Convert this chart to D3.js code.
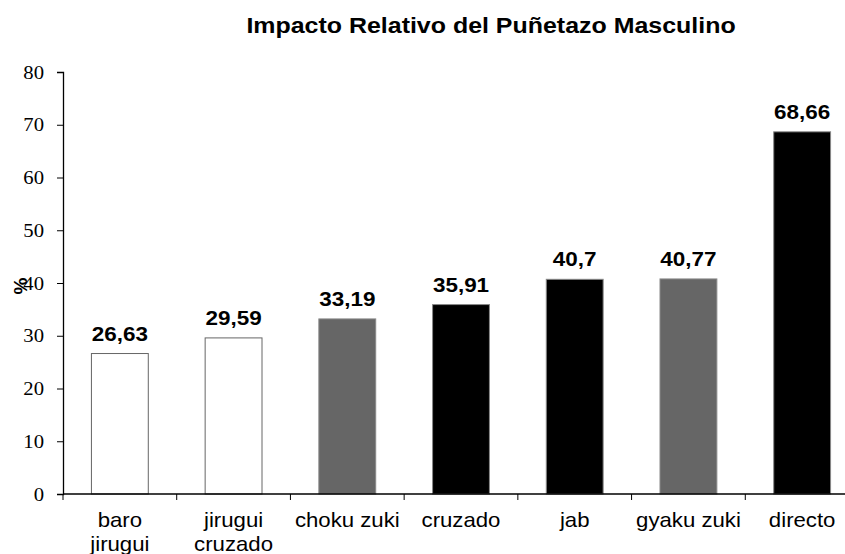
<!DOCTYPE html>
<html>
<head>
<meta charset="utf-8">
<script src="https://cdn.jsdelivr.net/npm/d3@7"></script>
<style>
  body { margin: 0; background: #fff; }
  svg { display: block; }
</style>
</head>
<body>
<div id="chart"></div>
<script>
const categories = ['baro jirugui', 'jirugui cruzado', 'choku zuki', 'cruzado', 'jab', 'gyaku zuki', 'directo']
const labelLines = [['baro', 'jirugui'], ['jirugui', 'cruzado'], ['choku zuki'], ['cruzado'], ['jab'], ['gyaku zuki'], ['directo']]
const values = [26.63, 29.59, 33.19, 35.91, 40.7, 40.77, 68.66]
const fills = ['#ffffff', '#ffffff', '#666666', '#000000', '#000000', '#666666', '#000000']
const yTicks = [0, 10, 20, 30, 40, 50, 60, 70, 80]

const width = 845
const height = 554
const margin = { top: 72, left: 63, right: -14, bottom: 60 }

const sans = "'Liberation Sans', Arial, sans-serif"
const serif = "'Liberation Serif', 'Times New Roman', serif"

const svg = d3
  .select('#chart')
  .append('svg')
  .attr('width', width)
  .attr('height', height)

const x = d3
  .scaleBand()
  .domain(categories)
  .range([margin.left, width - margin.right])
  .paddingInner(0.5)
  .paddingOuter(0.25)

const y = d3
  .scaleLinear()
  .domain([0, 80])
  .range([height - margin.bottom, margin.top])

// the original picture is a bit wider than tall, so text is stretched sideways
function stretched(sel, px, py, sx) {
  return sel.attr('transform', `translate(${px},${py}) scale(${sx},1)`)
}

// title
stretched(svg.append('text'), 491, 33, 1.085)
  .attr('text-anchor', 'middle')
  .style('font-family', sans)
  .style('font-weight', 'bold')
  .style('font-size', '23px')
  .text('Impacto Relativo del Puñetazo Masculino')

// y axis
const yAxis = svg
  .append('g')
  .attr('transform', `translate(${margin.left},0)`)
  .call(d3.axisLeft(y).tickValues(yTicks).tickSize(6).tickPadding(0))

yAxis.select('.domain').attr('stroke', '#000').attr('stroke-width', 1.3)
yAxis.selectAll('.tick line').attr('stroke', '#000')
yAxis
  .selectAll('.tick text')
  .attr('x', 0)
  .attr('dy', '0.34em')
  .attr('transform', 'translate(-19,0) scale(1.15,1)')
  .attr('fill', '#000')
  .style('font-family', serif)
  .style('font-size', '18px')

svg
  .append('text')
  .attr('transform', 'translate(27,286) rotate(-90)')
  .attr('text-anchor', 'middle')
  .style('font-family', sans)
  .style('font-weight', 'bold')
  .style('font-size', '19px')
  .text('%')

// bars
svg
  .selectAll('.bar')
  .data(values)
  .enter()
  .append('rect')
  .attr('class', 'bar')
  .attr('x', (d, i) => x(categories[i]))
  .attr('width', x.bandwidth())
  .attr('y', d => y(d))
  .attr('height', d => y(0) - y(d))
  .attr('fill', (d, i) => fills[i])
  .attr('stroke', (d, i) => (fills[i] === '#ffffff' ? '#666' : '#888'))
  .attr('stroke-width', 1)

// value labels
svg
  .selectAll('.val')
  .data(values)
  .enter()
  .append('text')
  .attr('class', 'val')
  .attr('transform', (d, i) => `translate(${x(categories[i]) + x.bandwidth() / 2},${y(d) - 13}) scale(1.07,1)`)
  .attr('text-anchor', 'middle')
  .style('font-family', sans)
  .style('font-weight', 'bold')
  .style('font-size', '21px')
  .text(d => String(d).replace('.', ','))

// x axis with ticks at category boundaries
const step = x.step()
const xAxis = svg.append('g').attr('transform', `translate(0,${y(0)})`)
xAxis
  .append('line')
  .attr('x1', margin.left)
  .attr('x2', width)
  .attr('stroke', '#000')
  .attr('stroke-width', 1.3)
xAxis
  .selectAll('.xtick')
  .data(d3.range(categories.length + 1))
  .enter()
  .append('line')
  .attr('x1', i => margin.left + i * step)
  .attr('x2', i => margin.left + i * step)
  .attr('y1', 0)
  .attr('y2', 6)
  .attr('stroke', '#000')

// category labels, one text per line
const xLabels = []
labelLines.forEach((lines, i) => {
  lines.forEach((t, j) => xLabels.push({ cat: categories[i], text: t, line: j }))
})

svg
  .selectAll('.xlab')
  .data(xLabels)
  .enter()
  .append('text')
  .attr('class', 'xlab')
  .attr('transform', d => `translate(${x(d.cat) + x.bandwidth() / 2},${527 + d.line * 24}) scale(1.11,1)`)
  .attr('text-anchor', 'middle')
  .style('font-family', sans)
  .style('font-size', '20px')
  .text(d => d.text)
</script>
</body>
</html>
